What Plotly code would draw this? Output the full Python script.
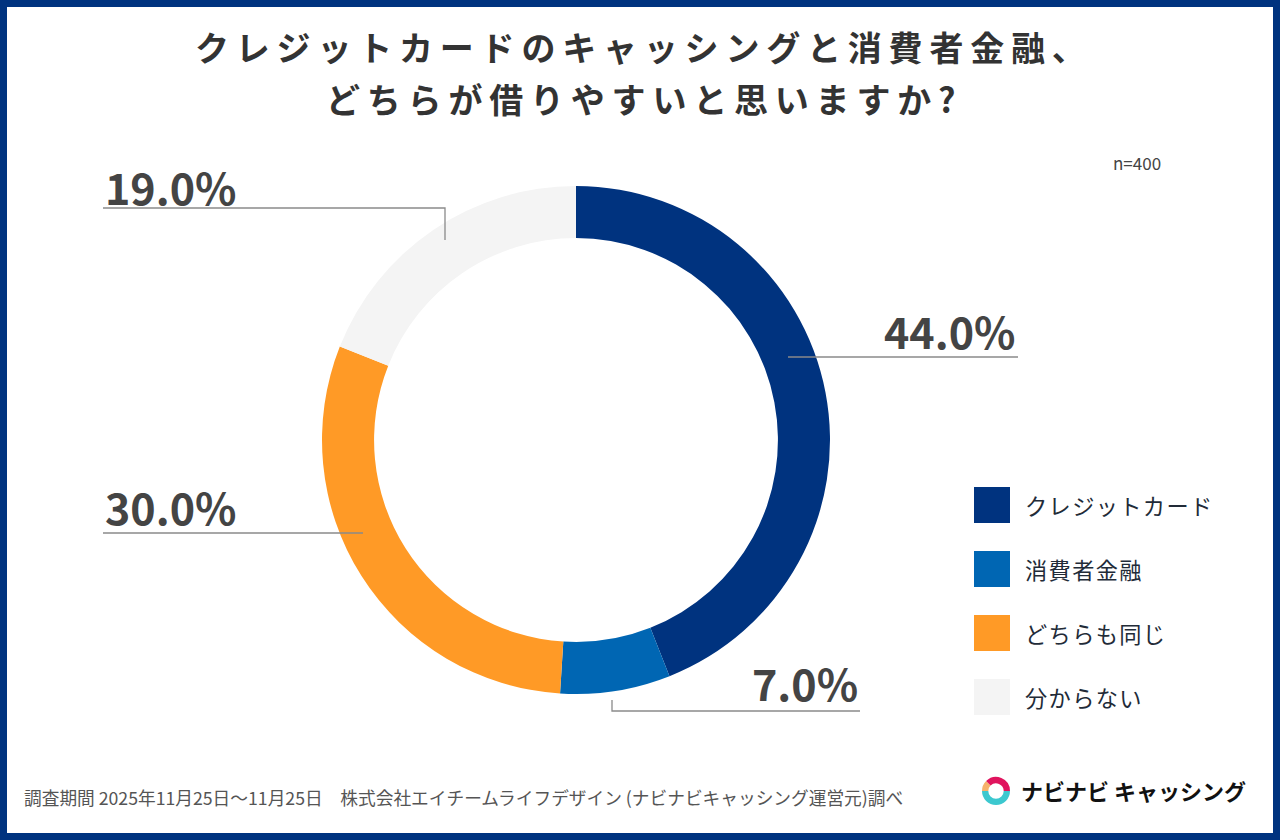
import plotly.graph_objects as go

W, H = 1280, 840

categories = ["クレジットカード", "消費者金融", "どちらも同じ", "分からない"]
values = [44.0, 7.0, 30.0, 19.0]
colors = ["#00337F", "#0066B3", "#FF9A26", "#F4F4F4"]
title_lines = ["クレジットカードのキャッシングと消費者金融、", "どちらが借りやすいと思いますか?"]
sample_note = "n=400"
footer = "調査期間 2025年11月25日～11月25日　株式会社エイチームライフデザイン (ナビナビキャッシング運営元)調べ"
logo_text = "ナビナビ キャッシング"
logo_parts = [50, 12.5, 37.5]
logo_colors = ["#3CC8CF", "#F6B26B", "#E0145E"]

FONT = "Noto Sans CJK JP"


def px(x, y):
    return x / W, 1 - y / H


def spaced(s, sep):
    return sep.join(list(s))


cx, cy, R = 576, 440, 254
fig = go.Figure()
fig.add_trace(go.Pie(
    labels=categories, values=values, sort=False, direction="clockwise", rotation=0,
    hole=0.795, marker=dict(colors=colors, line=dict(width=0)),
    textinfo="none", hoverinfo="label+percent", showlegend=False,
    domain=dict(x=[(cx - R) / W, (cx + R) / W], y=[1 - (cy + R) / H, 1 - (cy - R) / H]),
))

# logo icon
lx, ly, lr = 996, 791, 14
fig.add_trace(go.Pie(
    values=logo_parts, sort=False, direction="clockwise", rotation=90,
    hole=0.55, marker=dict(colors=logo_colors, line=dict(width=0)),
    textinfo="none", hoverinfo="skip", showlegend=False,
    domain=dict(x=[(lx - lr) / W, (lx + lr) / W], y=[1 - (ly + lr) / H, 1 - (ly - lr) / H]),
))

shapes = []
B = 7
navy = "#00337F"
for x0, y0, x1, y1 in [(0, 0, W, B), (0, H - B, W, H), (0, 0, B, H), (W - B, 0, W, H)]:
    a0, b0 = px(x0, y0)
    a1, b1 = px(x1, y1)
    shapes.append(dict(type="rect", xref="paper", yref="paper", x0=a0, y0=b0, x1=a1, y1=b1,
                       fillcolor=navy, line=dict(width=0), layer="above"))

line_col = "#8A8A8A"


def seg(pts):
    path = "M " + " L ".join(f"{px(x, y)[0]},{px(x, y)[1]}" for x, y in pts)
    shapes.append(dict(type="path", xref="paper", yref="paper", path=path,
                       line=dict(color=line_col, width=1.3), layer="above"))


# leader lines (credit, consumer, same, unknown)
seg([(788, 357), (1018, 357)])
seg([(612, 700), (612, 711), (860, 711)])
seg([(103, 533), (363, 533)])
seg([(103, 208), (445, 208), (445, 240)])

annotations = []
label_pos = [(1018, 330, "right"), (860, 682, "right"), (103, 506, "left"), (103, 186, "left")]
for v, (x, y, anc) in zip(values, label_pos):
    a, b = px(x, y)
    annotations.append(dict(x=a, y=b, xref="paper", yref="paper", text=f"<b>{v:.1f}%</b>",
                            showarrow=False, xanchor=anc, yanchor="middle",
                            font=dict(family=FONT, size=43, color="#444444")))

# title
for i, t in enumerate(title_lines):
    a, b = px(640, 46 + 52 * i)
    annotations.append(dict(x=a, y=b, xref="paper", yref="paper", text=f"<b>{spaced(t, chr(0x2009))}</b>",
                            showarrow=False, xanchor="center", yanchor="middle",
                            font=dict(family=FONT, size=34, color="#333333")))

a, b = px(1163, 163)
annotations.append(dict(x=a, y=b, xref="paper", yref="paper", text=sample_note, showarrow=False,
                        xanchor="right", yanchor="middle", font=dict(family=FONT, size=17, color="#444444")))

# legend
for i, (c, col) in enumerate(zip(categories, colors)):
    yc = 505 + 64 * i
    a0, b0 = px(974, yc - 18)
    a1, b1 = px(1010, yc + 18)
    shapes.append(dict(type="rect", xref="paper", yref="paper", x0=a0, y0=b0, x1=a1, y1=b1,
                       fillcolor=col, line=dict(width=0)))
    a, b = px(1023, yc)
    annotations.append(dict(x=a, y=b, xref="paper", yref="paper", text=spaced(c, chr(0x200A)), showarrow=False,
                            xanchor="left", yanchor="middle",
                            font=dict(family=FONT, size=22.2, color="#222B38")))

a, b = px(22, 797)
annotations.append(dict(x=a, y=b, xref="paper", yref="paper", text=footer, showarrow=False,
                        xanchor="left", yanchor="middle", font=dict(family=FONT, size=17.7, color="#555555")))

a, b = px(1019, 790)
annotations.append(dict(x=a, y=b, xref="paper", yref="paper", text=f"<b>{logo_text}</b>", showarrow=False,
                        xanchor="left", yanchor="middle", font=dict(family=FONT, size=22, color="#111111")))

fig.update_layout(width=W, height=H, margin=dict(l=0, r=0, t=0, b=0),
                  paper_bgcolor="white", plot_bgcolor="white",
                  shapes=shapes, annotations=annotations, showlegend=False)

fig.write_html("out.html")
